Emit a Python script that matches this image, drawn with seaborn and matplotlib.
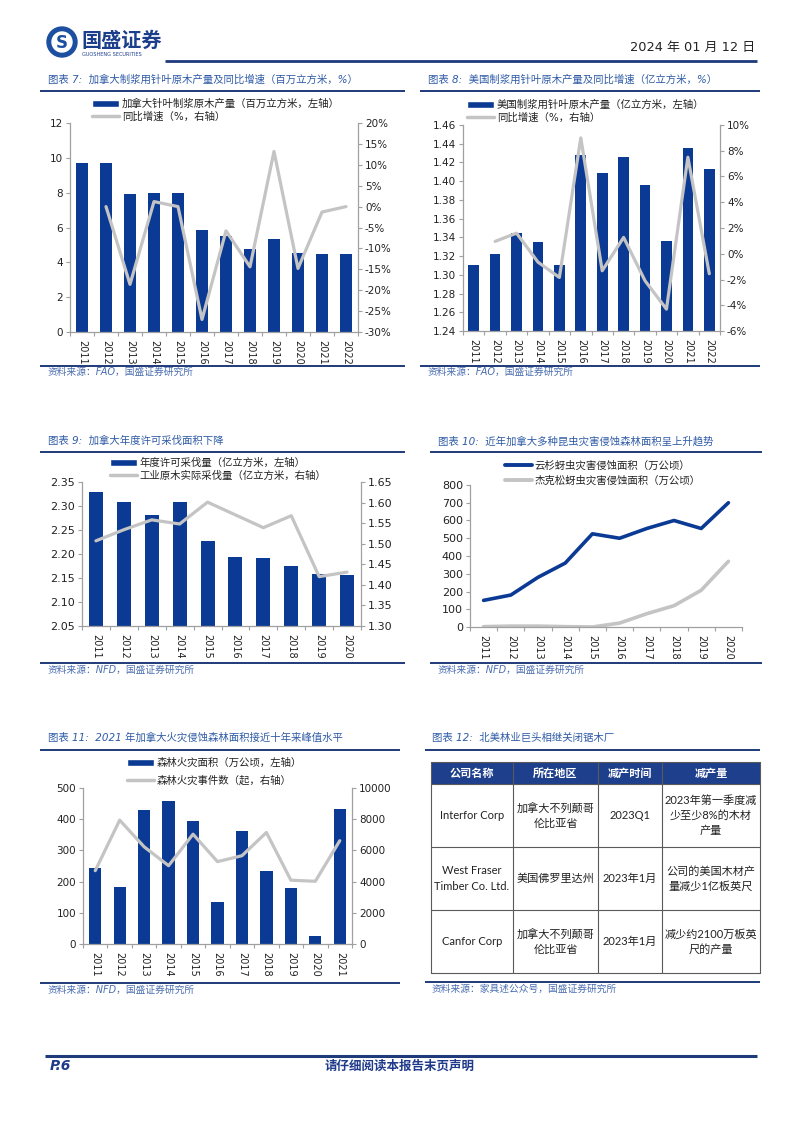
import numpy as np
import pandas as pd
import matplotlib
matplotlib.use("Agg")
import matplotlib.pyplot as plt
import seaborn as sns
from matplotlib.patches import Patch, Rectangle, Circle
from matplotlib.lines import Line2D
from matplotlib.ticker import FuncFormatter, MultipleLocator

sns.set_theme(style="white")
plt.rcParams['font.family'] = ['DejaVu Sans', 'Noto Sans CJK SC']
plt.rcParams['axes.unicode_minus'] = False

# ---------------- data ----------------
years_a = ["2011", "2012", "2013", "2014", "2015", "2016", "2017", "2018", "2019", "2020", "2021", "2022"]
yoy_years_a = years_a[1:]
ca_pulp_log = [9.72, 9.72, 7.9, 8.0, 8.0, 5.85, 5.52, 4.74, 5.36, 4.56, 4.5, 4.5]
ca_pulp_yoy = [0.0, -18.6, 1.2, 0.0, -27.0, -5.8, -14.4, 13.2, -14.8, -1.3, 0.0]

us_pulp_log = [1.3105, 1.3226, 1.3443, 1.335, 1.3105, 1.4275, 1.4083, 1.4258, 1.3955, 1.3357, 1.435, 1.413]
us_pulp_yoy = [0.96, 1.6, -0.65, -1.84, 9.0, -1.32, 1.27, -2.1, -4.3, 7.5, -1.55]

years_b = ["2011", "2012", "2013", "2014", "2015", "2016", "2017", "2018", "2019", "2020"]
aac = [2.329, 2.309, 2.282, 2.308, 2.228, 2.194, 2.191, 2.174, 2.159, 2.156]
actual_harvest = [1.507, 1.534, 1.558, 1.548, 1.601, 1.570, 1.539, 1.568, 1.420, 1.431]

spruce_budworm = [150, 180, 280, 360, 525, 500, 555, 600, 555, 700]
jack_pine_budworm = [2, 5, 5, 2, 0, 22, 75, 120, 207, 370]

years_c = ["2011", "2012", "2013", "2014", "2015", "2016", "2017", "2018", "2019", "2020", "2021"]
fire_area = [242, 184, 430, 457, 394, 136, 362, 235, 181, 27, 434]
fire_count = [4700, 7940, 6230, 5020, 7040, 5280, 5660, 7150, 4090, 4020, 6620]

table_header = ["公司名称", "所在地区", "减产时间", "减产量"]
table_rows = [
    ["Interfor Corp", "加拿大不列颠哥\n伦比亚省", "2023Q1", "2023年第一季度减\n少至少8%的木材\n产量"],
    ["West Fraser\nTimber Co. Ltd.", "美国佛罗里达州", "2023年1月", "公司的美国木材产\n量减少1亿板英尺"],
    ["Canfor Corp", "加拿大不列颠哥\n伦比亚省", "2023年1月", "减少约2100万板英\n尺的产量"],
]

# ---------------- style ----------------
W, H = 802, 1133
BAR_C = "#0B3A94"
GRAY_C = "#C4C4C4"
RULE_C = "#1F3A7A"
TITLE_C = "#2F5BA6"
SRC_C = "#4A6DB0"
SPINE_C = "#A0A0A0"
TXT_C = "#222222"
YEAR_FS = 7

fig = plt.figure(figsize=(W / 100, H / 100), dpi=100)
fig.patch.set_facecolor("white")

bg = fig.add_axes([0, 0, 1, 1])
bg.set_xlim(0, W)
bg.set_ylim(H, 0)
bg.axis("off")
bg.set_zorder(-5)


def add_ax(x0, y0, x1, y1):
    a = fig.add_axes([x0 / W, 1 - y1 / H, (x1 - x0) / W, (y1 - y0) / H])
    a.set_facecolor("none")
    return a


def section(x0, x1, tx, ty, ry1, ry2, sy, title, src):
    bg.text(tx, ty, title, color=TITLE_C, fontsize=7.5, style="italic", va="center", ha="left")
    bg.plot([x0, x1], [ry1, ry1], color=RULE_C, lw=1.4, solid_capstyle="butt")
    bg.plot([x0, x1], [ry2, ry2], color=RULE_C, lw=1.4, solid_capstyle="butt")
    bg.text(tx, sy, src, color=SRC_C, fontsize=7, style="italic", va="center", ha="left")


def style_x(ax, years):
    n = len(years)
    ax.set_xticks(range(n))
    ax.set_xticklabels(years, rotation=-90, ha="center", va="top", fontsize=YEAR_FS, color=TXT_C)
    ax.set_xticks(np.arange(-0.5, n, 1.0), minor=True)
    ax.tick_params(axis="x", which="major", length=0, pad=6)
    ax.tick_params(axis="x", which="minor", length=3, width=0.8, color=SPINE_C, bottom=True)
    ax.set_xlim(-0.5, n - 0.5)
    ax.set_xlabel("")


def legend(handles, labels, x, ytop, spacing):
    fig.legend(handles, labels, loc="upper left", bbox_to_anchor=(x / W, 1 - ytop / H),
               bbox_transform=fig.transFigure, frameon=False, fontsize=7.5,
               borderpad=0, borderaxespad=0, handlelength=2.6, handleheight=0.7,
               handletextpad=0.25, labelspacing=spacing, labelcolor=TXT_C)


def bar_line(box, years, bars, lyears, lvals, lylim, lstep, lfmt, rylim, rstep, rfmt, fs):
    ax = add_ax(*box)
    sns.barplot(x=years, y=bars, color=BAR_C, saturation=1, width=0.5, ax=ax, edgecolor="none")
    ax2 = ax.twinx()
    sns.pointplot(x=lyears, y=lvals, order=years, color=GRAY_C, markers="", linestyles="-",
                  errorbar=None, ax=ax2, linewidth=2.3)
    ax.set_ylim(*lylim)
    ax.yaxis.set_major_locator(MultipleLocator(lstep))
    ax.yaxis.set_major_formatter(FuncFormatter(lfmt))
    ax2.set_ylim(*rylim)
    ax2.yaxis.set_major_locator(MultipleLocator(rstep))
    ax2.yaxis.set_major_formatter(FuncFormatter(rfmt))
    style_x(ax, years)
    for a in (ax, ax2):
        a.set_ylabel("")
        a.set_xlabel("")
        for s in a.spines.values():
            s.set_visible(False)
        a.tick_params(axis="y", length=3, width=0.8, color=SPINE_C, labelsize=fs, labelcolor=TXT_C, pad=2)
    ax.spines["left"].set_visible(True)
    ax.spines["bottom"].set_visible(True)
    ax2.spines["right"].set_visible(True)
    for s in ("left", "bottom"):
        ax.spines[s].set_color(SPINE_C)
        ax.spines[s].set_linewidth(0.9)
    ax2.spines["right"].set_color(SPINE_C)
    ax2.spines["right"].set_linewidth(0.9)
    ax.tick_params(axis="y", left=True)
    ax2.tick_params(axis="y", right=True, left=False)
    return ax, ax2


# ---------------- header ----------------
bg.add_patch(Circle((62, 42), 15, color="#1D4FA0"))
bg.add_patch(Circle((62, 42), 10, color="white"))
bg.text(62, 42.5, "S", color="#1D4FA0", fontsize=12, fontweight="bold", ha="center", va="center")
bg.text(81, 40, "国盛证券", color="#1C3F8C", fontsize=14.5, fontweight="bold",
        family=["Noto Sans CJK SC"], ha="left", va="center")
bg.text(82, 54.5, "GUOSHENG SECURITIES", color="#1C3F8C", fontsize=3.6, ha="left", va="center")
bg.text(755, 47, "2024 年 01 月 12 日", color=TXT_C, fontsize=9.3, ha="right", va="center")
bg.plot([165, 757], [61, 61], color=RULE_C, lw=2.0, solid_capstyle="butt")

# ---------------- section frames ----------------
section(40, 405, 48, 80, 91, 366, 372, "图表 7:  加拿大制浆用针叶原木产量及同比增速（百万立方米，%）", "资料来源：FAO，国盛证券研究所")
section(420, 760, 428, 80, 91, 366, 372, "图表 8:  美国制浆用针叶原木产量及同比增速（亿立方米，%）", "资料来源：FAO，国盛证券研究所")
section(40, 405, 48, 441, 452, 663, 670, "图表 9:  加拿大年度许可采伐面积下降", "资料来源：NFD，国盛证券研究所")
section(430, 762, 438, 441, 452, 663, 670, "图表 10:  近年加拿大多种昆虫灾害侵蚀森林面积呈上升趋势", "资料来源：NFD，国盛证券研究所")
section(40, 400, 48, 738, 750, 983, 990, "图表 11:  2021 年加拿大火灾侵蚀森林面积接近十年来峰值水平", "资料来源：NFD，国盛证券研究所")
section(425, 760, 432, 738, 750, 982, 989, "图表 12:  北美林业巨头相继关闭锯木厂", "资料来源：家具述公众号，国盛证券研究所")

pct = lambda v, p: f"{v:.0f}%"
f2 = lambda v, p: f"{v:.2f}"
f0 = lambda v, p: f"{v:.0f}"

# ---------------- chart 7 ----------------
bar_line((70, 123, 358, 332), years_a, ca_pulp_log, yoy_years_a, ca_pulp_yoy,
         (0, 12), 2, f0, (-30, 20), 5, pct, 7.5)
legend([Patch(facecolor=BAR_C), Line2D([], [], color=GRAY_C, lw=2.5)],
       ["加拿大针叶制浆原木产量（百万立方米，左轴）", "同比增速（%，右轴）"], 92, 99, 0.2)

# ---------------- chart 8 ----------------
bar_line((463, 125, 720, 331), years_a, us_pulp_log, yoy_years_a, us_pulp_yoy,
         (1.24, 1.46), 0.02, f2, (-6, 10), 2, pct, 7.5)
legend([Patch(facecolor=BAR_C), Line2D([], [], color=GRAY_C, lw=2.5)],
       ["美国制浆用针叶原木产量（亿立方米，左轴）", "同比增速（%，右轴）"], 467, 100, 0.2)

# ---------------- chart 9 ----------------
bar_line((82, 482, 361, 626), years_b, aac, years_b, actual_harvest,
         (2.05, 2.35), 0.05, f2, (1.30, 1.65), 0.05, f2, 8)
legend([Patch(facecolor=BAR_C), Line2D([], [], color=GRAY_C, lw=2.5)],
       ["年度许可采伐量（亿立方米，左轴）", "工业原木实际采伐量（亿立方米，右轴）"], 110, 458, 0.2)

# ---------------- chart 10 ----------------
ax10 = add_ax(470, 485, 742, 627)
sns.pointplot(x=years_b, y=spruce_budworm, order=years_b, color=BAR_C, markers="", linestyles="-",
              errorbar=None, ax=ax10, linewidth=2.6)
sns.pointplot(x=years_b, y=jack_pine_budworm, order=years_b, color=GRAY_C, markers="", linestyles="-",
              errorbar=None, ax=ax10, linewidth=2.6)
ax10.set_ylim(0, 800)
ax10.yaxis.set_major_locator(MultipleLocator(100))
ax10.yaxis.set_major_formatter(FuncFormatter(f0))
style_x(ax10, years_b)
ax10.set_ylabel("")
for s in ax10.spines.values():
    s.set_visible(False)
for s in ("left", "bottom"):
    ax10.spines[s].set_visible(True)
    ax10.spines[s].set_color(SPINE_C)
    ax10.spines[s].set_linewidth(0.9)
ax10.tick_params(axis="y", left=True, length=3, width=0.8, color=SPINE_C, labelsize=8, labelcolor=TXT_C, pad=2)
legend([Line2D([], [], color=BAR_C, lw=2.8), Line2D([], [], color=GRAY_C, lw=2.8)],
       ["云杉蚜虫灾害侵蚀面积（万公顷）", "杰克松蚜虫灾害侵蚀面积（万公顷）"], 505, 461, 0.45)

# ---------------- chart 11 ----------------
bar_line((83, 788, 352, 944), years_c, fire_area, years_c, fire_count,
         (0, 500), 100, f0, (0, 10000), 2000, f0, 7.5)
legend([Patch(facecolor=BAR_C), Line2D([], [], color=GRAY_C, lw=2.5)],
       ["森林火灾面积（万公顷，左轴）", "森林火灾事件数（起，右轴）"], 127, 758, 0.65)

# ---------------- table 12 ----------------
tab = add_ax(0, 0, W, H)
tab.set_xlim(0, W)
tab.set_ylim(H, 0)
tab.axis("off")
cols = [431, 513, 598, 662, 760]
rows = [762, 784, 847, 910, 973]
tab.add_patch(Rectangle((cols[0], rows[0]), cols[-1] - cols[0], rows[1] - rows[0],
                        facecolor="#1E3F8C", edgecolor="none"))
for xv in cols:
    tab.plot([xv, xv], [rows[0], rows[-1]], color="#5A5A5A", lw=0.8)
for yv in rows:
    tab.plot([cols[0], cols[-1]], [yv, yv], color="#5A5A5A", lw=0.8)
for j, h in enumerate(table_header):
    tab.text((cols[j] + cols[j + 1]) / 2, (rows[0] + rows[1]) / 2, h, color="white",
             fontsize=8, fontweight="bold", ha="center", va="center", family=["Noto Sans CJK SC"])
for i, r in enumerate(table_rows):
    for j, t in enumerate(r):
        tab.text((cols[j] + cols[j + 1]) / 2, (rows[i + 1] + rows[i + 2]) / 2, t, color=TXT_C,
                 fontsize=8, ha="center", va="center", linespacing=1.45,
                 family=["Lato", "Noto Sans CJK SC"])

# ---------------- footer ----------------
bg.plot([45, 757], [1056, 1056], color=RULE_C, lw=2.2, solid_capstyle="butt")
bg.text(50, 1066, "P.6", color="#1F3A8A", fontsize=10, fontweight="bold", style="italic",
        ha="left", va="center")
bg.text(400, 1066, "请仔细阅读本报告末页声明", color="#1F3A8A", fontsize=9, fontweight="bold",
        style="italic", ha="center", va="center")

fig.savefig("out.png", dpi=100, facecolor="white")
